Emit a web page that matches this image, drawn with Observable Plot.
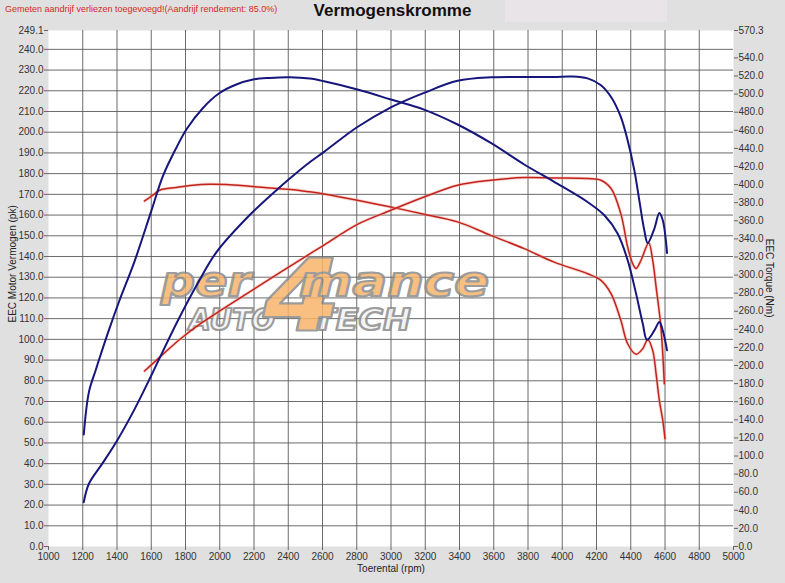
<!DOCTYPE html>
<html>
<head>
<meta charset="utf-8">
<script src="https://cdn.jsdelivr.net/npm/d3@7"></script>
<script src="https://cdn.jsdelivr.net/npm/@observablehq/plot@0.6"></script>
<style>
  body { margin: 0; background: #e0e0e0; font-family: "Liberation Sans", Arial, sans-serif; }
  #wrap { position: relative; width: 785px; height: 583px; overflow: hidden; }
  #note { position: absolute; left: 5px; top: 4px; font-size: 9px; color: #d42a22; }
  #title { position: absolute; left: 0; width: 785px; top: 1px; text-align: center; font-size: 17px; font-weight: bold; color: #111; }
  #box { position: absolute; left: 505px; top: 0; width: 162px; height: 22px; background: #e9e4e7; }
  #chart { position: absolute; left: 0; top: 0; }
</style>
</head>
<body>
<div id="wrap">
  <div id="box"></div>
  <div id="note">Gemeten aandrijf verliezen toegevoegd!(Aandrijf rendement: 85.0%)</div>
  <div id="title">Vermogenskromme</div>
  <div id="chart"></div>
</div>
<script>
// toerental as
const rpmTicks = d3.range(1000, 5001, 200);
// links: vermogen (pk), rechts: koppel (Nm)
const pkTicks = d3.range(0, 241, 10).concat([249.1]);
const nmTicks = d3.range(0, 541, 20).concat([570.3]);
const pkMax = 249.1;
const nmMax = 570.3;

// blauw koppel (Nm)
const blueTorqueRpm = [1206, 1236, 1275, 1294, 1352, 1411, 1503, 1600, 1668, 1746, 1805, 1902, 1999, 2097, 2194, 2292, 2408, 2525, 2609, 2804, 2999, 3193, 3389, 3583, 3778, 3953, 4148, 4246, 4324, 4382, 4431, 4470, 4495, 4538, 4567, 4587, 4612];
const blueTorqueNm = [123.9, 170.6, 194.6, 205.8, 238.8, 270.2, 315.5, 370.7, 409.4, 440.5, 460.9, 484.7, 501.2, 510.6, 516.1, 517.9, 518.6, 517.2, 514.2, 505.1, 494.1, 482.9, 466.4, 446.0, 422.2, 403.0, 380.7, 366.1, 345.7, 316.4, 279.5, 246.4, 228.5, 238.8, 248.2, 238.8, 216.8];

// blauw vermogen (pk)
const bluePowerRpm = [1206, 1236, 1314, 1401, 1499, 1596, 1655, 1752, 1878, 1980, 2175, 2331, 2414, 2525, 2609, 2804, 2999, 3077, 3193, 3389, 3583, 3778, 3953, 4051, 4148, 4226, 4285, 4342, 4382, 4421, 4450, 4479, 4499, 4538, 4567, 4587, 4612];
const bluePowerPk = [21.4, 30.3, 40.0, 51.2, 65.7, 81.8, 92.0, 108.5, 128.0, 142.0, 160.0, 172.0, 178.0, 185.5, 190.5, 202.5, 212.0, 215.0, 219.0, 224.8, 226.5, 226.7, 226.7, 226.9, 226.0, 222.7, 217.0, 207.4, 196.0, 181.6, 167.1, 152.7, 146.5, 153.5, 161.0, 157.5, 141.7];

// rood koppel (Nm)
const redTorqueRpm = [1561, 1610, 1649, 1746, 1843, 1941, 2039, 2175, 2331, 2414, 2525, 2609, 2804, 2999, 3193, 3389, 3583, 3778, 3953, 4148, 4226, 4285, 4342, 4382, 4431, 4470, 4499, 4528, 4548, 4567, 4587, 4600];
const redTorqueNm = [381.9, 388.3, 393.8, 396.8, 399.3, 400.4, 400.0, 398.1, 395.6, 394.7, 392.0, 389.5, 382.6, 375.2, 367.2, 358.8, 343.9, 329.2, 314.3, 301.5, 294.2, 279.5, 250.0, 224.1, 212.5, 218.6, 228.7, 216.8, 190.9, 161.4, 139.4, 119.1];

// rood vermogen (pk)
const redPowerRpm = [1561, 1655, 1771, 1888, 2005, 2220, 2414, 2609, 2804, 2999, 3193, 3389, 3583, 3778, 3953, 4148, 4226, 4285, 4342, 4382, 4411, 4431, 4460, 4505, 4528, 4548, 4576, 4596];
const redPowerPk = [84.7, 91.8, 100.3, 107.6, 114.0, 125.3, 135.5, 145.5, 155.5, 162.3, 168.7, 174.4, 176.8, 178.1, 177.9, 177.6, 176.8, 172.8, 160.7, 144.6, 136.6, 134.2, 138.2, 146.5, 138.2, 125.3, 106.0, 78.6];

// koppel omrekenen naar de linker schaal
const k = pkMax / nmMax;
const rows = (xs, ys, f = 1) => xs.map((x, i) => ({rpm: x, v: ys[i] * f}));
const blueTorque = rows(blueTorqueRpm, blueTorqueNm, k);
const bluePower = rows(bluePowerRpm, bluePowerPk);
const redTorque = rows(redTorqueRpm, redTorqueNm, k);
const redPower = rows(redPowerRpm, redPowerPk);

const blue = "#16167c";
const red = "#c2241c";
const gridColor = "#5a5a5a";
const font = "Liberation Sans, Arial, sans-serif";

const redLine = data => [
  Plot.line(data, {x: "rpm", y: "v", stroke: "#f0a09a", strokeWidth: 3.2, strokeOpacity: 0.45, curve: "catmull-rom"}),
  Plot.line(data, {x: "rpm", y: "v", stroke: red, strokeWidth: 1.5, curve: "catmull-rom"})
];
const blueLine = data => Plot.line(data, {x: "rpm", y: "v", stroke: blue, strokeWidth: 2, curve: "catmull-rom"});

const chart = Plot.plot({
  width: 785,
  height: 583,
  marginTop: 30,
  marginBottom: 37,
  marginLeft: 48,
  marginRight: 52,
  style: {background: "transparent", fontFamily: font, fontSize: "10px", color: "#333"},
  x: {domain: [1000, 5000]},
  y: {domain: [0, pkMax]},
  marks: [
    Plot.frame({fill: "white", stroke: "none"}),
    Plot.gridX(rpmTicks.slice(1, -1), {stroke: gridColor, strokeOpacity: 1, strokeWidth: 0.9}),
    Plot.gridY(pkTicks.slice(1, -1), {stroke: gridColor, strokeOpacity: 1, strokeWidth: 0.9}),
    Plot.axisX(rpmTicks, {anchor: "bottom", tickSize: 4, tickPadding: 2, tickFormat: d => String(d), label: null, stroke: "#666"}),
    Plot.axisY(pkTicks, {anchor: "left", tickSize: 4, tickPadding: 1, tickFormat: d => d.toFixed(1), label: null, stroke: "#666"}),
    Plot.axisY(nmTicks.map(d => d * k), {anchor: "right", tickSize: 4, tickPadding: 1, tickFormat: d => (Math.round(d / k * 10) / 10).toFixed(1), label: null, stroke: "#666"}),
    ...redLine(redTorque),
    ...redLine(redPower),
    blueLine(blueTorque),
    blueLine(bluePower),
    Plot.text(["Toerental (rpm)"], {frameAnchor: "bottom", dy: 25, fontSize: 10, fill: "#222"}),
    Plot.text(["EEC Motor Vermogen (pk)"], {frameAnchor: "left", dx: -36, dy: 34, rotate: -90, fontSize: 10, fill: "#222"}),
    Plot.text(["EEC Torque (Nm)"], {frameAnchor: "right", dx: 36, dy: 29, rotate: 90, fontSize: 10, fill: "#222"})
  ]
});

// watermerk onder de lijnen
const svg = d3.select(chart);
const logo = svg.insert("g", "g[aria-label=line]").attr("opacity", 0.85)
  .attr("font-family", "DejaVu Sans, sans-serif").attr("font-weight", "bold").attr("font-style", "italic")
  .attr("stroke-linejoin", "round");
const word = (t, x, y, size, len, fill) => logo.append("text").text(t)
  .attr("x", x).attr("y", y).attr("font-size", size)
  .attr("textLength", len).attr("lengthAdjust", "spacingAndGlyphs")
  .attr("fill", fill).attr("stroke", "#8c8c8c").attr("stroke-width", 2.2);
word("per", 206, 296, 42, 90, "#f8b46a");
word("AUTO", 232, 330, 30, 86, "#f4f4f4");
word("TECH", 362, 330, 30, 98, "#f4f4f4");
word("4", 302, 330, 100, 78, "#f8b46a");
word("mance", 394, 296, 42, 190, "#f8b46a");

document.getElementById("chart").append(chart);
</script>
</body>
</html>
